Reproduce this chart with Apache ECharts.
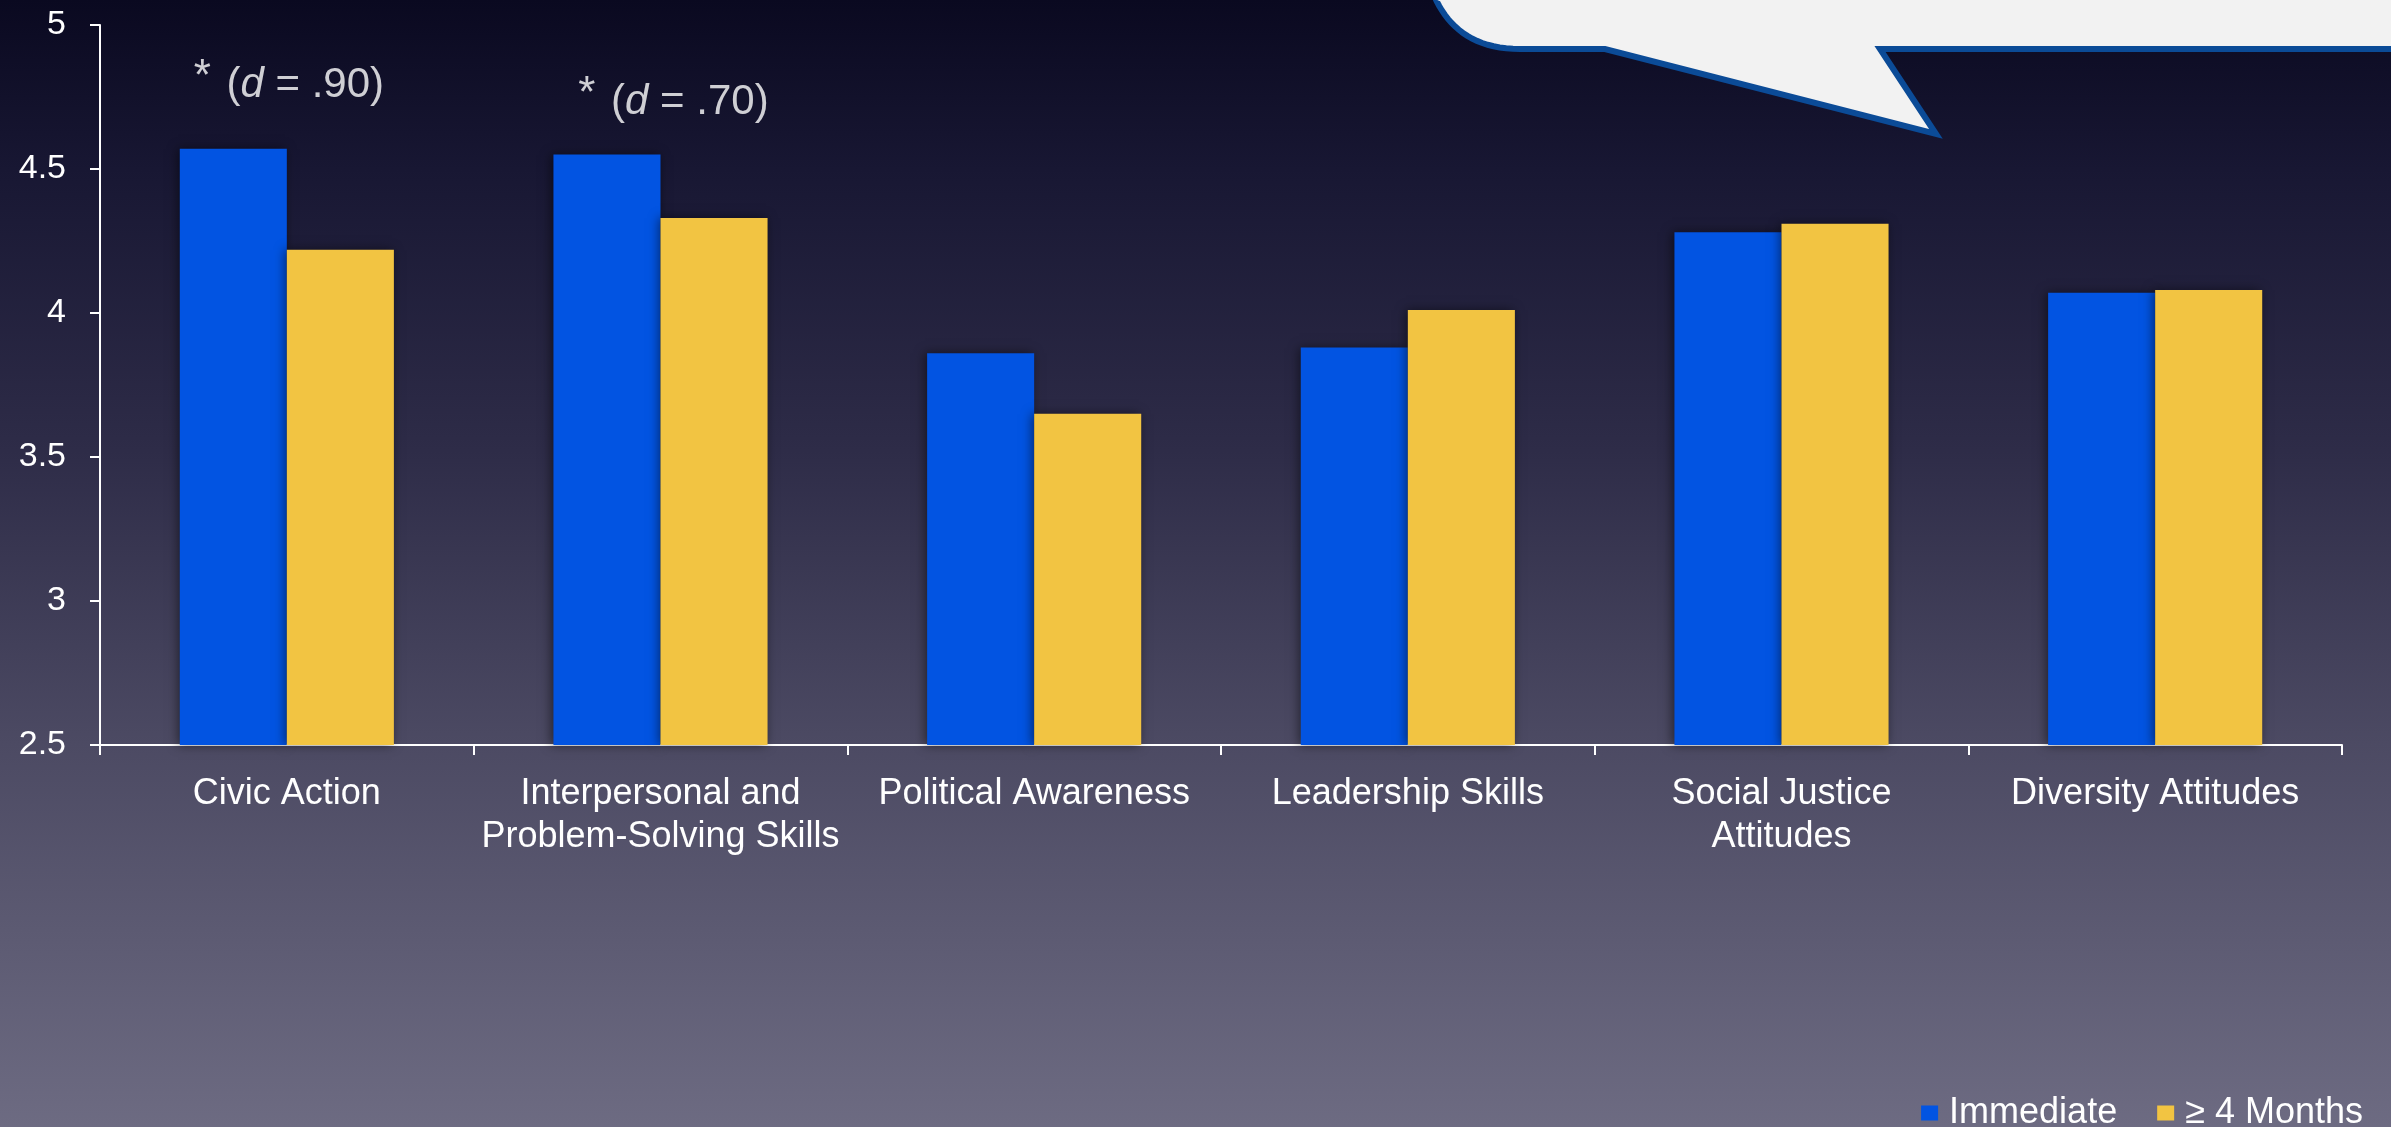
<!DOCTYPE html>
<html>
<head>
<meta charset="utf-8">
<script src="https://cdn.jsdelivr.net/npm/echarts@6/dist/echarts.min.js"></script>
<style>
  html, body { margin: 0; padding: 0; background: #0b0a22; }
  #chart { width: 2391px; height: 1127px; }
</style>
</head>
<body>
<div id="chart"></div>
<script>
// Outcome categories along the x axis
const categories = [
  'Civic Action',
  'Interpersonal and\nProblem-Solving Skills',
  'Political Awareness',
  'Leadership Skills',
  'Social Justice\nAttitudes',
  'Diversity Attitudes'
];

// Mean scores per outcome
const seriesNames = ['Immediate', '\u2265 4 Months'];
const immediate = [4.57, 4.55, 3.86, 3.88, 4.28, 4.07];
const fourMonths = [4.22, 4.33, 3.65, 4.01, 4.31, 4.08];

// Value axis range and step
const yMin = 2.5;
const yMax = 5;
const yStep = 0.5;

// Significant differences with effect size d
const effectCategories = ['Civic Action', 'Interpersonal and\nProblem-Solving Skills'];
const effectSizes = ['.90', '.70'];

const FONT = '"Liberation Sans", Arial, Helvetica, sans-serif';
const BLUE = '#0254e2';
const GOLD = '#f2c442';

const chart = echarts.init(document.getElementById('chart'), null, { renderer: 'canvas' });

// annotation placement (value level and horizontal nudge per label)
const annotationLevels = [4.79, 4.73];
const annotationNudge = [[2, 0], [13, 0]];

const annotationData = effectCategories.map((c, i) => ({
  value: [c, annotationLevels[i]],
  label: {
    offset: annotationNudge[i],
    formatter: '{s|*} ({d|d} = ' + effectSizes[i] + ')'
  }
}));

// Outline of the callout bubble in the top-right corner (rounded corner + tail)
function calloutOutline() {
  const pts = [];
  const p0 = [1426, -30], c1 = [1436, 15], c2 = [1462, 49], p1 = [1520, 49];
  for (let i = 0; i <= 24; i++) {
    const t = i / 24, u = 1 - t;
    pts.push([
      u * u * u * p0[0] + 3 * u * u * t * c1[0] + 3 * u * t * t * c2[0] + t * t * t * p1[0],
      u * u * u * p0[1] + 3 * u * u * t * c1[1] + 3 * u * t * t * c2[1] + t * t * t * p1[1]
    ]);
  }
  pts.push([1605, 49], [1936, 134], [1880, 49], [2410, 49], [2410, -30]);
  return pts;
}

const option = {
  backgroundColor: {
    type: 'linear', x: 0, y: 0, x2: 0, y2: 1,
    colorStops: [
      { offset: 0, color: '#0a0920' },
      { offset: 0.15, color: '#181733' },
      { offset: 0.4, color: '#2e2c48' },
      { offset: 0.66, color: '#4c4a63' },
      { offset: 1, color: '#6d6b82' }
    ]
  },
  animation: false,
  grid: { left: 100, right: 49, top: 25, bottom: 382, containLabel: false },
  legend: {
    data: seriesNames,
    right: 23,
    top: 1090,
    icon: 'rect',
    itemWidth: 17,
    itemHeight: 15,
    itemGap: 40,
    textStyle: { color: '#ffffff', fontSize: 36, fontFamily: FONT, padding: [0, 0, 0, 6] }
  },
  xAxis: {
    type: 'category',
    data: categories,
    axisLine: { show: true, lineStyle: { color: '#ffffff', width: 2 } },
    axisTick: { show: true, length: 10, lineStyle: { color: '#ffffff', width: 2 } },
    axisLabel: {
      color: '#ffffff', fontSize: 36, fontFamily: FONT, lineHeight: 43,
      margin: 28, interval: 0
    },
    splitLine: { show: false }
  },
  yAxis: {
    type: 'value',
    min: yMin, max: yMax, interval: yStep,
    axisLine: { show: true, lineStyle: { color: '#ffffff', width: 2 } },
    axisTick: { show: true, length: 10, lineStyle: { color: '#ffffff', width: 2 } },
    axisLabel: { color: '#ffffff', fontSize: 34, fontFamily: FONT, margin: 34 },
    splitLine: { show: false }
  },
  series: [
    {
      name: seriesNames[0],
      type: 'bar',
      data: immediate,
      barGap: '0%',
      barCategoryGap: '42.7%',
      itemStyle: {
        color: BLUE,
        shadowBlur: 10, shadowColor: 'rgba(0,0,0,0.5)', shadowOffsetX: -2
      }
    },
    {
      name: seriesNames[1],
      type: 'bar',
      data: fourMonths,
      barGap: '0%',
      barCategoryGap: '42.7%',
      itemStyle: {
        color: GOLD,
        shadowBlur: 10, shadowColor: 'rgba(0,0,0,0.5)', shadowOffsetX: -2
      }
    },
    {
      name: 'effect',
      type: 'scatter',
      symbolSize: 0,
      silent: true,
      data: annotationData,
      label: {
        show: true,
        position: 'inside',
        color: '#ffffff',
        fontFamily: FONT,
        fontSize: 42,
        rich: {
          s: { color: '#ffffff', fontFamily: FONT, fontSize: 44, padding: [0, 4, 16, 0] },
          d: { color: '#ffffff', fontFamily: FONT, fontSize: 42, fontStyle: 'italic' }
        }
      },
      z: 5
    }
  ],
  graphic: [
    {
      type: 'polygon',
      z: 100,
      shape: { points: calloutOutline() },
      style: { fill: '#f2f2f2', stroke: '#0b4b97', lineWidth: 6, lineJoin: 'miter' }
    }
  ]
};

chart.setOption(option);
</script>
</body>
</html>
